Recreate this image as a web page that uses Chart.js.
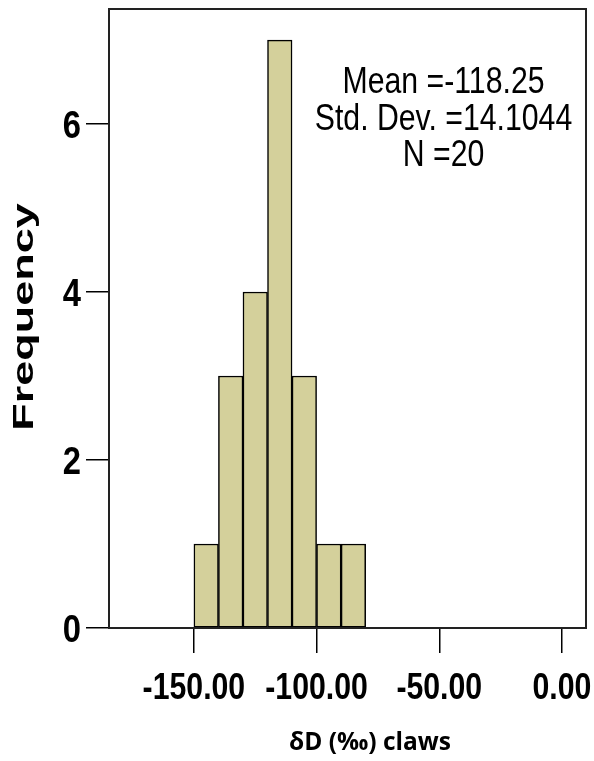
<!DOCTYPE html>
<html>
<head>
<meta charset="utf-8">
<script src="https://cdn.jsdelivr.net/npm/chart.js@4.4.1/dist/chart.umd.min.js"></script>
<style>
  body { margin: 0; background: #fff; }
  #wrap { width: 594px; height: 761px; }
</style>
</head>
<body>
<div id="wrap"><canvas id="histChart" width="594" height="761"></canvas></div>
<script>
const ctx = document.getElementById('histChart').getContext('2d')

// histogram bins (lower edge, width 10) and their counts
const binStarts = [-150, -140, -130, -120, -110, -100, -90]
const binWidth = 10
const counts = [1, 3, 4, 7, 3, 1, 1]

const xTicks = [-150, -100, -50, 0]
const yTicks = [0, 2, 4, 6]
const statLines = ['Mean =-118.25', 'Std. Dev. =14.1044', 'N =20']
const xTitle = 'δD (‰) claws'
const yTitle = 'Frequency'

const SANS = '"Liberation Sans", Arial, sans-serif'
const SQUEEZE = 0.84   // the original text is drawn narrow

function narrowText(c, text, x, y, font, align, baseline) {
    c.save()
    c.font = font
    c.textAlign = align
    c.textBaseline = baseline
    c.translate(x, y)
    c.scale(SQUEEZE, 1)
    c.fillText(text, 0, 0)
    c.restore()
}

// box, narrow tick labels, stats and the two titles
const extrasPlugin = {
    id: 'extras',
    afterDraw(chart) {
        const c = chart.ctx
        const a = chart.chartArea
        const xs = chart.scales.x
        const ys = chart.scales.y
        c.save()
        c.strokeStyle = '#222'
        c.lineWidth = 2
        c.strokeRect(a.left, a.top, a.right - a.left, a.bottom - a.top)
        c.fillStyle = '#000'

        xs.ticks.forEach(t => {
            narrowText(c, t.value.toFixed(2), xs.getPixelForValue(t.value), a.bottom + 71,
                'bold 36px ' + SANS, 'center', 'alphabetic')
        })
        ys.ticks.forEach(t => {
            narrowText(c, String(t.value), a.left - 28, ys.getPixelForValue(t.value) + 14,
                'bold 39px ' + SANS, 'right', 'alphabetic')
        })

        statLines.forEach((t, i) => {
            narrowText(c, t, a.right - 142.5, a.top + 84 + i * 36.5,
                '36px ' + SANS, 'center', 'alphabetic')
        })

        c.textAlign = 'center'
        c.textBaseline = 'alphabetic'
        c.font = 'bold 24.5px "Open Sans", sans-serif'
        c.fillText(xTitle, 370, 750)

        c.translate(33, 317)
        c.rotate(-Math.PI / 2)
        c.scale(1, 0.64)
        c.font = 'bold 45px ' + SANS
        c.fillText(yTitle, 0, 0)
        c.restore()
    }
}

const chart = new Chart(ctx, {
    type: 'bar',
    data: {
        datasets: [{
            data: binStarts.map((s, i) => ({ x: s + binWidth / 2, y: counts[i] })),
            backgroundColor: '#d4d09b',
            borderColor: '#000',
            borderWidth: 1.5,
            borderSkipped: false,
            barPercentage: 1,
            categoryPercentage: 1
        }]
    },
    options: {
        responsive: false,
        animation: false,
        layout: { padding: { top: 9, right: 8, left: 0, bottom: 0 } },
        plugins: {
            legend: { display: false },
            tooltip: { enabled: false }
        },
        scales: {
            x: {
                type: 'linear',
                offset: false,
                min: -184.6,
                max: 9.8,
                afterBuildTicks: s => { s.ticks = xTicks.map(v => ({ value: v })) },
                afterFit: s => {
                    s.height = 133
                    s.paddingLeft = 0
                    s.paddingRight = 0
                },
                ticks: {
                    color: 'rgba(0,0,0,0)',
                    maxRotation: 0,
                    autoSkip: false,
                    font: { family: SANS, size: 30, weight: 'bold' },
                    callback: v => v.toFixed(2)
                },
                grid: {
                    offset: false,
                    drawOnChartArea: false,
                    drawTicks: true,
                    tickLength: 25,
                    color: '#000',
                    lineWidth: 1.5
                },
                border: { display: true, color: '#000', width: 2 }
            },
            y: {
                min: 0,
                max: 7.37,
                afterBuildTicks: s => { s.ticks = yTicks.map(v => ({ value: v })) },
                afterFit: s => {
                    s.width = 109
                    s.paddingTop = 0
                    s.paddingBottom = 0
                },
                ticks: {
                    color: 'rgba(0,0,0,0)',
                    font: { family: SANS, size: 32, weight: 'bold' }
                },
                grid: {
                    drawOnChartArea: false,
                    drawTicks: true,
                    tickLength: 23,
                    color: '#000',
                    lineWidth: 1.5
                },
                border: { display: true, color: '#000', width: 2 }
            }
        }
    },
    plugins: [extrasPlugin]
})
</script>
</body>
</html>
